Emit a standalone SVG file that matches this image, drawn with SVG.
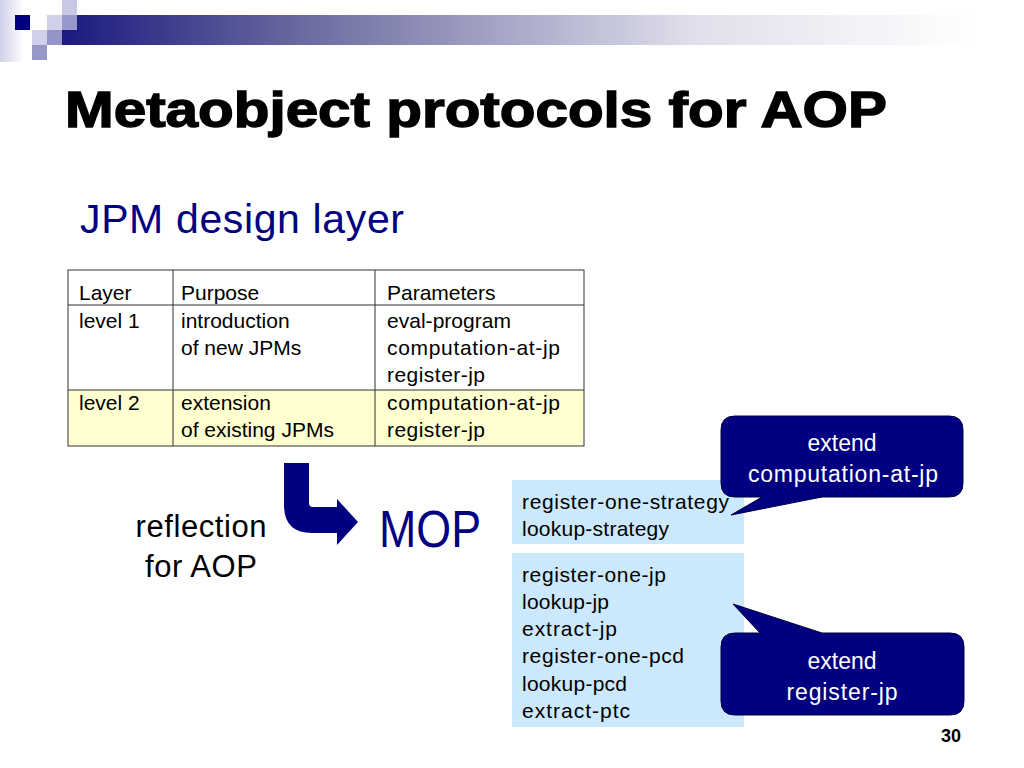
<svg xmlns="http://www.w3.org/2000/svg" width="1024" height="768" viewBox="0 0 1024 768">
<style>
.t{font-family:"Liberation Sans",Arial,sans-serif;font-size:21px;fill:#000}
.box{fill:#cce8fc}
.call{fill:#000080;stroke:#000040;stroke-width:1}
.ct{font-family:"Liberation Sans",Arial,sans-serif;font-size:23px;fill:#fff;text-anchor:middle}
.grid{stroke:#333;stroke-width:1;fill:none}
</style>
<defs>
<linearGradient id="bar" x1="0" y1="0" x2="1" y2="0">
<stop offset="0" stop-color="#1a1a80"/>
<stop offset="0.25" stop-color="#6a6aa0"/>
<stop offset="0.66" stop-color="#e0e0ec"/>
<stop offset="0.95" stop-color="#ffffff"/>
</linearGradient>
<linearGradient id="edge" x1="0" y1="0" x2="1" y2="0">
<stop offset="0" stop-color="#d0d0e8"/>
<stop offset="1" stop-color="#ffffff"/>
</linearGradient>
</defs>
<rect width="1024" height="768" fill="#fff"/>
<g id="header-decoration">
<rect x="0" y="0" width="24" height="62" fill="url(#edge)"/>
<rect x="62" y="15" width="962" height="30" fill="url(#bar)"/>
<rect x="15" y="15" width="15" height="15" fill="#000080"/>
<rect x="62" y="0" width="15" height="15" fill="#c8c8e4"/>
<rect x="47" y="15" width="15" height="15" fill="#d0d0e8"/>
<rect x="62" y="15" width="15" height="15" fill="#9898cc"/>
<rect x="32" y="30" width="15" height="15" fill="#d0d0e8"/>
<rect x="47" y="30" width="15" height="15" fill="#9494c8"/>
<rect x="32" y="45" width="15" height="15" fill="#9898c8"/>
</g>
<g id="title">
<text x="65" y="127" font-family="'Liberation Sans',Arial,sans-serif" font-size="50" font-weight="bold" fill="#000" stroke="#000" stroke-width="1.4" textLength="822" lengthAdjust="spacingAndGlyphs">Metaobject protocols for AOP</text>
</g>
<g id="subtitle">
<text x="80" y="233" font-family="'Liberation Sans',Arial,sans-serif" font-size="41" fill="#000080" textLength="324">JPM design layer</text>
</g>
<g id="table">
<rect x="68" y="390" width="516" height="56" fill="#ffffd0"/>
<rect class="grid" x="68" y="270" width="516" height="176"/>
<line class="grid" x1="68" y1="305" x2="584" y2="305"/>
<line class="grid" x1="68" y1="390" x2="584" y2="390"/>
<line class="grid" x1="173" y1="270" x2="173" y2="446"/>
<line class="grid" x1="375" y1="270" x2="375" y2="446"/>
<text class="t" x="79" y="300">Layer</text>
<text class="t" x="181" y="300">Purpose</text>
<text class="t" x="387" y="300">Parameters</text>
<text class="t" x="79" y="328">level 1</text>
<text class="t" x="181" y="328">introduction</text>
<text class="t" x="181" y="355">of new JPMs</text>
<text class="t" x="387" y="328" textLength="124">eval-program</text>
<text class="t" x="387" y="355" textLength="173">computation-at-jp</text>
<text class="t" x="387" y="382" textLength="98">register-jp</text>
<text class="t" x="79" y="410">level 2</text>
<text class="t" x="181" y="410">extension</text>
<text class="t" x="181" y="437">of existing JPMs</text>
<text class="t" x="387" y="410" textLength="173">computation-at-jp</text>
<text class="t" x="387" y="437" textLength="98">register-jp</text>
</g>
<g id="reflection-label">
<text x="201" y="537" font-family="'Liberation Sans',Arial,sans-serif" font-size="31" fill="#000" text-anchor="middle" textLength="131">reflection</text>
<text x="201" y="577" font-family="'Liberation Sans',Arial,sans-serif" font-size="31" fill="#000" text-anchor="middle" textLength="112">for AOP</text>
</g>
<g id="connectors">
<path d="M284,463 L309,463 L309,503 Q309,507 313,507 L337,507 L337,499 L358,522 L337,545 L337,533 L312,533 Q284,533 284,505 Z" fill="#000080"/>
</g>
<g id="mop-label">
<text x="379" y="547" font-family="'Liberation Sans',Arial,sans-serif" font-size="51" fill="#000080" textLength="102" lengthAdjust="spacingAndGlyphs">MOP</text>
</g>
<g id="box-strategy">
<rect class="box" x="512" y="480" width="232" height="64"/>
<text class="t" x="522" y="509" textLength="207">register-one-strategy</text>
<text class="t" x="522" y="536" textLength="147">lookup-strategy</text>
</g>
<g id="box-jp">
<rect class="box" x="512" y="553" width="232" height="174"/>
<text class="t" x="522" y="582" textLength="144">register-one-jp</text>
<text class="t" x="522" y="609" textLength="87">lookup-jp</text>
<text class="t" x="522" y="636" textLength="95">extract-jp</text>
<text class="t" x="522" y="663" textLength="162">register-one-pcd</text>
<text class="t" x="522" y="691" textLength="105">lookup-pcd</text>
<text class="t" x="522" y="718" textLength="108">extract-ptc</text>
</g>
<g id="callout-computation">
<path class="call" d="M735,416 H949 Q963,416 963,430 V483 Q963,497 949,497 H822 L731,515 L762,497 H735 Q721,497 721,483 V430 Q721,416 735,416 Z"/>
<text class="ct" x="842" y="451">extend</text>
<text class="ct" x="843" y="482" textLength="190">computation-at-jp</text>
</g>
<g id="callout-register">
<path class="call" d="M735,633 H760 L733,604 L822,633 H950 Q964,633 964,647 V701 Q964,715 950,715 H735 Q721,715 721,701 V647 Q721,633 735,633 Z"/>
<text class="ct" x="842" y="669">extend</text>
<text class="ct" x="842" y="700" textLength="111">register-jp</text>
</g>
<g id="page-number">
<text x="941" y="742" font-family="'Liberation Sans',Arial,sans-serif" font-size="18" font-weight="bold" fill="#000">30</text>
</g>
</svg>
